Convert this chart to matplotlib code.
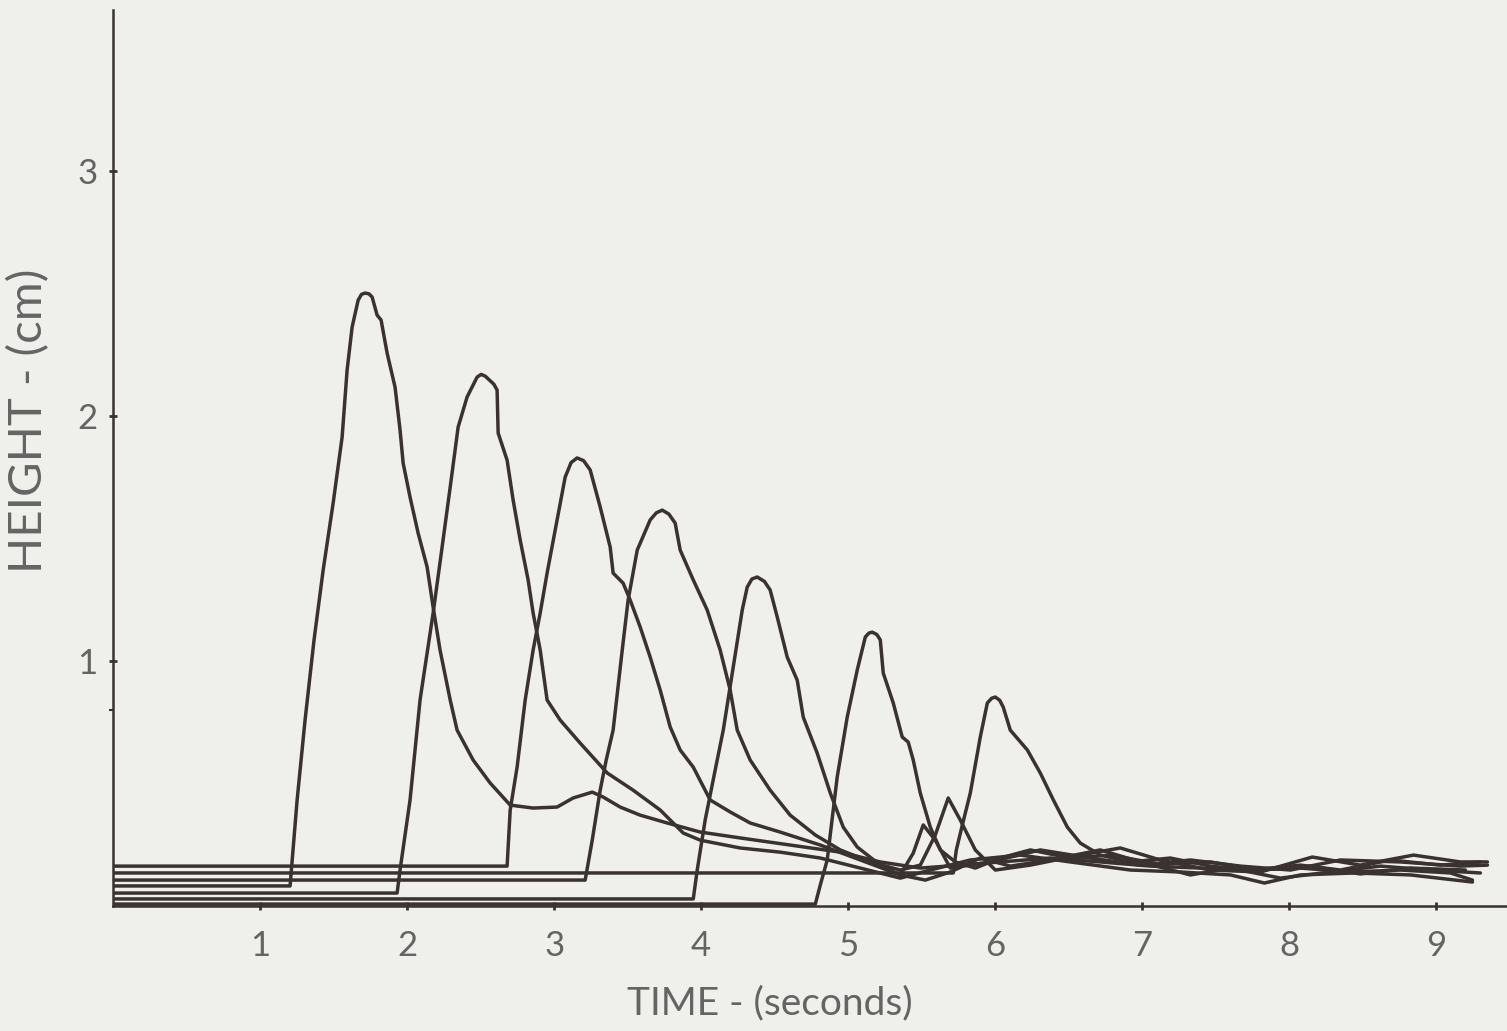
import matplotlib.pyplot as plt

# wave height records, one trace per run (time in s, height in cm)
time_a = [0.0, 1.204, 1.252, 1.306, 1.367, 1.429, 1.497, 1.558, 1.592, 1.626, 1.667, 1.690, 1.714, 1.740,
          1.762, 1.796, 1.823, 1.864, 1.918, 1.952, 1.973, 2.020, 2.075, 2.136, 2.177, 2.224, 2.293,
          2.340, 2.449, 2.565, 2.701, 2.857, 3.020, 3.129, 3.259, 3.333, 3.449, 3.585, 3.769, 3.993,
          4.265, 4.605, 4.946, 5.218, 5.490, 5.762, 6.034, 6.374, 6.714, 7.054, 7.395, 7.735, 8.075,
          8.415, 8.755, 9.095, 9.245]
height_a = [0.082, 0.082, 0.433, 0.759, 1.086, 1.371, 1.645, 1.914, 2.188, 2.363, 2.473, 2.497, 2.502, 2.499,
            2.486, 2.412, 2.392, 2.257, 2.118, 1.943, 1.808, 1.669, 1.522, 1.384, 1.220, 1.045, 0.841,
            0.718, 0.596, 0.502, 0.412, 0.400, 0.404, 0.441, 0.465, 0.445, 0.404, 0.371, 0.339, 0.302,
            0.278, 0.249, 0.220, 0.180, 0.155, 0.167, 0.180, 0.196, 0.180, 0.163, 0.155, 0.147, 0.155,
            0.139, 0.147, 0.135, 0.106]

time_b = [0.0, 1.932, 1.952, 2.020, 2.088, 2.177, 2.238, 2.293, 2.347, 2.408, 2.476, 2.503, 2.531, 2.590,
          2.612, 2.619, 2.680, 2.721, 2.769, 2.823, 2.857, 2.905, 2.952, 3.041, 3.177, 3.361, 3.537,
          3.721, 3.878, 3.993, 4.265, 4.537, 4.810, 5.082, 5.354, 5.558, 5.830, 6.170, 6.510, 6.918,
          7.259, 7.599, 7.830, 8.075, 8.442, 8.823, 9.245]
height_b = [0.053, 0.053, 0.147, 0.433, 0.841, 1.196, 1.465, 1.710, 1.955, 2.078, 2.159, 2.170, 2.163, 2.130,
            2.106, 1.931, 1.820, 1.657, 1.494, 1.331, 1.196, 1.045, 0.841, 0.759, 0.665, 0.543, 0.473,
            0.392, 0.298, 0.269, 0.237, 0.220, 0.196, 0.155, 0.114, 0.147, 0.188, 0.208, 0.180, 0.147,
            0.139, 0.127, 0.094, 0.127, 0.135, 0.127, 0.098]

time_c = [0.0, 2.680, 2.701, 2.748, 2.803, 2.857, 2.905, 2.952, 3.020, 3.075, 3.115, 3.156, 3.200, 3.245,
          3.313, 3.381, 3.401, 3.469, 3.517, 3.585, 3.653, 3.721, 3.789, 3.857, 3.946, 4.061, 4.197,
          4.333, 4.537, 4.810, 5.082, 5.354, 5.442, 5.510, 5.592, 5.694, 5.966, 6.306, 6.646, 6.986,
          7.327, 7.667, 8.007, 8.347, 8.755, 9.163, 9.347]
height_c = [0.163, 0.163, 0.392, 0.567, 0.841, 1.045, 1.196, 1.359, 1.576, 1.751, 1.810, 1.829, 1.818, 1.780,
            1.629, 1.465, 1.359, 1.318, 1.249, 1.139, 1.016, 0.882, 0.731, 0.637, 0.567, 0.433, 0.384,
            0.339, 0.302, 0.249, 0.188, 0.127, 0.216, 0.331, 0.269, 0.155, 0.180, 0.229, 0.196, 0.167,
            0.188, 0.163, 0.147, 0.188, 0.180, 0.163, 0.167]

time_d = [0.0, 3.211, 3.259, 3.313, 3.354, 3.401, 3.463, 3.503, 3.565, 3.653, 3.695, 3.735, 3.780, 3.823,
          3.857, 3.946, 4.041, 4.129, 4.197, 4.245, 4.333, 4.469, 4.605, 4.776, 4.946, 5.150, 5.354,
          5.490, 5.592, 5.680, 5.762, 5.864, 6.000, 6.238, 6.578, 6.850, 7.122, 7.463, 7.803, 8.156,
          8.483, 8.844, 9.163, 9.347]
height_d = [0.106, 0.106, 0.269, 0.473, 0.596, 0.718, 1.045, 1.249, 1.453, 1.576, 1.605, 1.616, 1.600, 1.563,
            1.453, 1.331, 1.208, 1.045, 0.882, 0.718, 0.596, 0.473, 0.371, 0.290, 0.229, 0.180, 0.147,
            0.167, 0.290, 0.441, 0.351, 0.229, 0.147, 0.167, 0.208, 0.237, 0.188, 0.147, 0.139, 0.200,
            0.167, 0.208, 0.180, 0.180]

time_e = [0.0, 3.946, 3.973, 4.027, 4.095, 4.150, 4.218, 4.279, 4.313, 4.345, 4.381, 4.430, 4.469, 4.517,
          4.585, 4.653, 4.694, 4.789, 4.878, 4.966, 5.061, 5.218, 5.354, 5.524, 5.694, 5.898, 6.102,
          6.374, 6.714, 6.986, 7.327, 7.599, 7.939, 8.279, 8.619, 8.959, 9.299]
height_e = [0.029, 0.029, 0.147, 0.351, 0.555, 0.718, 0.976, 1.208, 1.302, 1.335, 1.343, 1.325, 1.290, 1.180,
            1.016, 0.922, 0.771, 0.624, 0.461, 0.322, 0.241, 0.167, 0.127, 0.106, 0.139, 0.196, 0.163,
            0.188, 0.229, 0.180, 0.127, 0.155, 0.114, 0.139, 0.163, 0.147, 0.135]

time_f = [0.0, 4.776, 4.810, 4.857, 4.925, 4.993, 5.061, 5.116, 5.140, 5.163, 5.195, 5.218, 5.238, 5.306,
          5.367, 5.408, 5.442, 5.490, 5.558, 5.626, 5.728, 5.864, 6.034, 6.238, 6.510, 6.782, 7.122,
          7.463, 7.803, 8.143, 8.483, 8.823, 9.197]
height_f = [0.008, 0.008, 0.086, 0.188, 0.527, 0.771, 0.963, 1.098, 1.114, 1.118, 1.108, 1.086, 0.951, 0.829,
            0.690, 0.669, 0.596, 0.461, 0.322, 0.229, 0.180, 0.155, 0.196, 0.229, 0.196, 0.208, 0.171,
            0.180, 0.147, 0.163, 0.131, 0.155, 0.147]

time_g = [0.0, 5.714, 5.735, 5.776, 5.830, 5.898, 5.946, 5.975, 6.000, 6.030, 6.054, 6.102, 6.218, 6.306,
          6.395, 6.490, 6.578, 6.714, 6.918, 7.190, 7.463, 7.735, 8.075, 8.347, 8.687, 9.027, 9.299]
height_g = [0.135, 0.135, 0.229, 0.331, 0.461, 0.690, 0.829, 0.848, 0.853, 0.840, 0.812, 0.718, 0.637, 0.543,
            0.433, 0.322, 0.257, 0.208, 0.180, 0.196, 0.163, 0.147, 0.167, 0.147, 0.188, 0.167, 0.180]

runs = [(time_a, height_a), (time_b, height_b), (time_c, height_c), (time_d, height_d),
        (time_e, height_e), (time_f, height_f), (time_g, height_g)]

x_ticks = [1, 2, 3, 4, 5, 6, 7, 8, 9]
y_ticks = [1, 2, 3]

paper = '#efefeb'
ink = '#3a3230'
label_grey = '#646464'

plt.rcParams['font.family'] = ['Lato', 'DejaVu Sans']

fig = plt.figure(figsize=(15.07, 10.31), dpi=100, facecolor=paper)
ax = fig.add_axes([0.075, 0.1212, 0.925, 0.869])
ax.set_facecolor(paper)

for t, h in runs:
    ax.plot(t, h, color=ink, lw=2.5, solid_joinstyle='round', solid_capstyle='round')

ax.set_xlim(0, 9.48)
ax.set_ylim(0, 3.657)

for side in ('top', 'right'):
    ax.spines[side].set_visible(False)
for side in ('left', 'bottom'):
    ax.spines[side].set_color(ink)
    ax.spines[side].set_linewidth(1.8)

ax.set_xticks(x_ticks)
ax.set_yticks(y_ticks)
ax.set_yticks([0.8], minor=True)
ax.tick_params(axis='both', which='major', direction='inout', length=6, width=2, color=ink,
               labelsize=25, labelcolor=label_grey)
ax.tick_params(axis='x', which='major', pad=14)
ax.tick_params(axis='y', which='major', pad=8)
ax.tick_params(axis='y', which='minor', direction='out', length=3, width=1.5, color=ink)

ax.set_xlabel('TIME - (seconds)', fontsize=28, color=label_grey)
ax.set_ylabel('HEIGHT - (cm)', fontsize=34, color=label_grey)
ax.xaxis.set_label_coords(0.471, -0.088)
ax.yaxis.set_label_coords(-0.045, 0.542)

fig.savefig('out.png', dpi=100, facecolor=paper)
